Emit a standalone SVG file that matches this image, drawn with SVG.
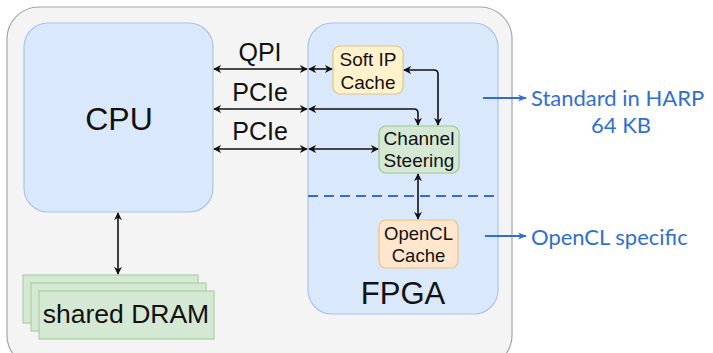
<svg xmlns="http://www.w3.org/2000/svg" width="713" height="353" viewBox="0 0 713 353">
  <style>
    .lbl { font-family: "Liberation Sans", Arial, sans-serif; fill: #111; text-anchor: middle; }
    .note { font-family: Lato, "Open Sans", sans-serif; fill: #2f6fd0; }
    .conn { fill: none; stroke: #111; stroke-width: 1.6; }
    .blue { fill: none; stroke: #2f6fd0; stroke-width: 2; }
  </style>
  <defs>
    <marker id="ah" viewBox="0 0 10 10" refX="9" refY="5" markerWidth="8" markerHeight="8" orient="auto-start-reverse" markerUnits="userSpaceOnUse">
      <path d="M0,0 L10,5 L0,10 L3,5 Z" fill="#111"/>
    </marker>
    <marker id="bh" viewBox="0 0 10 10" refX="9" refY="5" markerWidth="9" markerHeight="9" orient="auto" markerUnits="userSpaceOnUse">
      <path d="M0,1 L10,5 L0,9 L3,5 Z" fill="#2f6fd0"/>
    </marker>
  </defs>

  <!-- system enclosure -->
  <g id="system">
    <rect x="7" y="7" width="505" height="360" rx="32" fill="#f4f4f4" stroke="#a6a6a6" stroke-width="1.2"/>
  </g>

  <g id="cpu">
    <rect x="24" y="23" width="189" height="189" rx="24" fill="#dae8fc" stroke="#a9c4eb" stroke-width="1.2"/>
    <text class="lbl" x="119" y="130" font-size="32">CPU</text>
  </g>

  <g id="fpga">
    <rect x="308" y="23" width="190" height="291" rx="24" fill="#dae8fc" stroke="#a9c4eb" stroke-width="1.2"/>
    <text class="lbl" x="403" y="304" font-size="31">FPGA</text>
    <line x1="308" y1="196" x2="497" y2="196" stroke="#2f6fd0" stroke-width="2.2" stroke-dasharray="10 6"/>
  </g>

  <g id="dram">
    <rect x="23" y="275" width="175" height="48" fill="#d5e8d4" stroke="#a8cf9f" stroke-width="1.2"/>
    <rect x="31" y="283" width="175" height="48" fill="#d5e8d4" stroke="#a8cf9f" stroke-width="1.2"/>
    <rect x="39" y="291" width="175" height="48" fill="#d5e8d4" stroke="#a8cf9f" stroke-width="1.2"/>
    <text class="lbl" x="126" y="323" font-size="26.5">shared DRAM</text>
  </g>

  <g id="soft-ip-cache">
    <rect x="333" y="46" width="70" height="48" rx="7" fill="#fff2cc" stroke="#e0c77e" stroke-width="1.2"/>
    <text class="lbl" x="368" y="66" font-size="19">Soft IP</text>
    <text class="lbl" x="368" y="89" font-size="19">Cache</text>
  </g>

  <g id="channel-steering">
    <rect x="379" y="126" width="80" height="47" rx="7" fill="#d5e8d4" stroke="#9cc792" stroke-width="1.2"/>
    <text class="lbl" x="419" y="145" font-size="19">Channel</text>
    <text class="lbl" x="419" y="167" font-size="19">Steering</text>
  </g>

  <g id="opencl-cache">
    <rect x="379" y="220" width="79" height="48" rx="7" fill="#ffe6cc" stroke="#eec27f" stroke-width="1.2"/>
    <text class="lbl" x="418.5" y="240" font-size="18.5">OpenCL</text>
    <text class="lbl" x="418.5" y="262" font-size="18.5">Cache</text>
  </g>

  <g id="connectors">
    <!-- CPU to FPGA links -->
    <line class="conn" x1="214" y1="69" x2="307" y2="69" marker-start="url(#ah)" marker-end="url(#ah)"/>
    <line class="conn" x1="214" y1="109" x2="307" y2="109" marker-start="url(#ah)" marker-end="url(#ah)"/>
    <line class="conn" x1="214" y1="149" x2="307" y2="149" marker-start="url(#ah)" marker-end="url(#ah)"/>
    <text class="lbl" x="260" y="61" font-size="25">QPI</text>
    <text class="lbl" x="260" y="101" font-size="25">PCIe</text>
    <text class="lbl" x="260" y="140" font-size="25">PCIe</text>
    <!-- inside FPGA -->
    <line class="conn" x1="309" y1="69" x2="332" y2="69" marker-start="url(#ah)" marker-end="url(#ah)"/>
    <path class="conn" d="M309,109 H414 Q418,109 418,113 V125" marker-start="url(#ah)" marker-end="url(#ah)"/>
    <line class="conn" x1="309" y1="149" x2="378" y2="149" marker-start="url(#ah)" marker-end="url(#ah)"/>
    <path class="conn" d="M404,70 H434 Q438,70 438,74 V125" marker-start="url(#ah)" marker-end="url(#ah)"/>
    <line class="conn" x1="418" y1="174" x2="418" y2="219" marker-start="url(#ah)" marker-end="url(#ah)"/>
    <!-- CPU to DRAM -->
    <line class="conn" x1="118" y1="213" x2="118" y2="274" marker-start="url(#ah)" marker-end="url(#ah)"/>
    <!-- annotations -->
    <line class="blue" x1="483" y1="98" x2="526" y2="98" marker-end="url(#bh)"/>
    <line class="blue" x1="485" y1="236" x2="526" y2="236" marker-end="url(#bh)"/>
  </g>

  <g id="notes">
    <text class="note" x="531" y="106" font-size="22">Standard in HARP</text>
    <text class="note" x="621" y="133" font-size="22" text-anchor="middle">64 KB</text>
    <text class="note" x="531" y="245" font-size="22">OpenCL specific</text>
  </g>
</svg>
